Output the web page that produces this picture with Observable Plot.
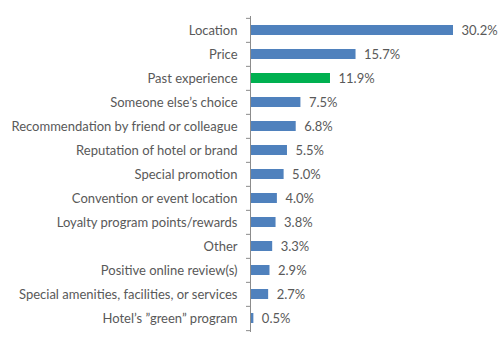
<!DOCTYPE html>
<html>
<head>
<meta charset="utf-8">
<script src="https://cdn.jsdelivr.net/npm/d3@7"></script>
<script src="https://cdn.jsdelivr.net/npm/@observablehq/plot@0.6"></script>
<style>
  html, body { margin: 0; padding: 0; background: #fff; }
  #chart svg { display: block; }
</style>
</head>
<body>
<div id="chart"></div>
<script>
const categories = [
  "Location",
  "Price",
  "Past experience",
  "Someone else’s choice",
  "Recommendation by friend or colleague",
  "Reputation of hotel or brand",
  "Special promotion",
  "Convention or event location",
  "Loyalty program points/rewards",
  "Other",
  "Positive online review(s)",
  "Special amenities, facilities, or services",
  "Hotel’s ”green” program"
];
const values = [30.2, 15.7, 11.9, 7.5, 6.8, 5.5, 5.0, 4.0, 3.8, 3.3, 2.9, 2.7, 0.5];
const highlighted = ["Past experience"];

const data = categories.map((c, i) => ({category: c, value: values[i], hi: highlighted.includes(c)}));

const W = 501, H = 353;
const mTop = 16, mBottom = 21, mLeft = 250, mRight = 48;
const step = (H - mTop - mBottom) / categories.length;
const font = "Lato, 'Liberation Sans', sans-serif";
const gray = "#595959";
const axisColor = "#8c8c8c";

const chart = Plot.plot({
  width: W,
  height: H,
  marginTop: mTop,
  marginBottom: mBottom,
  marginLeft: mLeft,
  marginRight: mRight,
  style: {fontFamily: font, fontSize: "13px", color: gray, background: "#fff"},
  x: {domain: [0, 30.2], axis: null},
  y: {domain: categories, paddingInner: 0.6, paddingOuter: 0.3, label: null},
  marks: [
    Plot.barX(data, {x: "value", y: "category", fill: d => d.hi ? "#00b050" : "#4f81bd"}),
    Plot.ruleX([0], {stroke: axisColor, strokeWidth: 1}),
    Plot.ruleY(categories, {y: d => d, x1: 0, x2: 0, insetLeft: -4, dy: -step / 2, stroke: axisColor}),
    Plot.ruleY(categories.slice(-1), {y: d => d, x1: 0, x2: 0, insetLeft: -4, dy: step / 2, stroke: axisColor}),
    Plot.axisY({tickSize: 0, tickPadding: 13, fill: gray, fontSize: 13, label: null}),
    Plot.text(data, {x: "value", y: "category", text: d => d.value.toFixed(1) + "%", textAnchor: "start", dx: 8, fill: gray, fontSize: 13})
  ]
});
document.getElementById("chart").appendChild(chart);
</script>
</body>
</html>
